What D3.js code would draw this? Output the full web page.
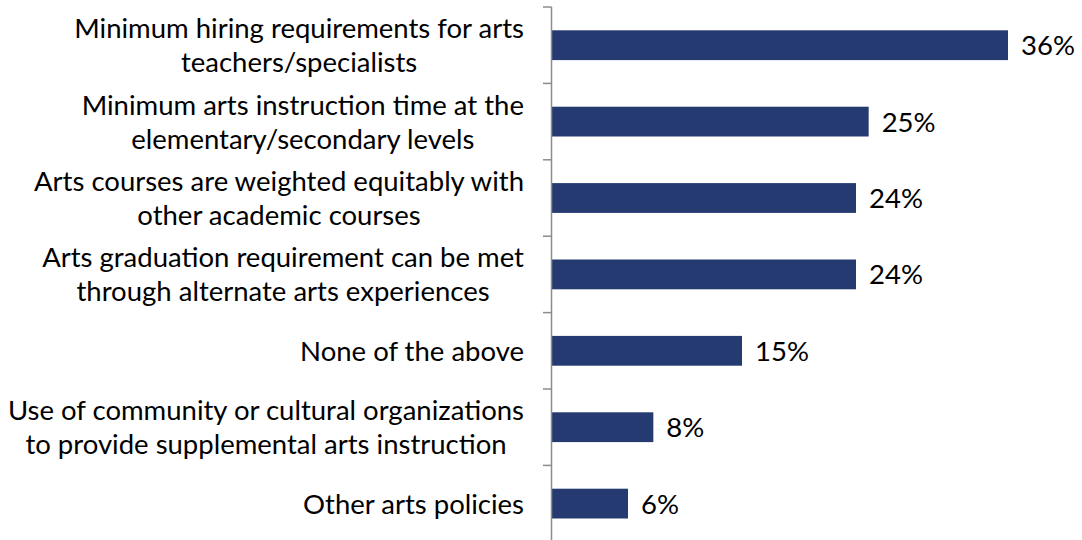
<!DOCTYPE html>
<html>
<head>
<meta charset="utf-8">
<script src="https://cdn.jsdelivr.net/npm/d3@7"></script>
<style>
  html, body { margin: 0; padding: 0; background: #ffffff; }
  svg { display: block; }
  text { font-family: Lato, "Open Sans", sans-serif; fill: #000; }
</style>
</head>
<body>
<svg id="chart" width="1082" height="540"></svg>
<script>
// Arts policies reported, share of respondents
const categories = [
  ["Minimum hiring requirements for arts", "teachers/specialists"],
  ["Minimum arts instruction time at the", "elementary/secondary levels"],
  ["Arts courses are weighted equitably with", "other academic courses"],
  ["Arts graduation requirement can be met", "through alternate arts experiences"],
  ["None of the above"],
  ["Use of community or cultural organizations", "to provide supplemental arts instruction"],
  ["Other arts policies"]
];
const values = [36, 25, 24, 24, 15, 8, 6];

const svg = d3.select("#chart");
const axisX = 552;
const plotTop = 7, step = 76.4;
const fontSize = 27.5;

const y = d3.scaleBand()
  .domain(d3.range(categories.length))
  .range([plotTop, plotTop + step * categories.length])
  .paddingInner(0.61)
  .paddingOuter(0.305);

const x = d3.scaleLinear().domain([0, 36]).range([axisX, axisX + 456]);

// bars
svg.append("g").selectAll("rect")
  .data(values)
  .join("rect")
  .attr("x", axisX)
  .attr("y", (d, i) => y(i))
  .attr("width", d => x(d) - axisX)
  .attr("height", y.bandwidth())
  .attr("fill", "#243a70");

// value labels
svg.append("g").selectAll("text")
  .data(values)
  .join("text")
  .attr("x", d => x(d) + 13)
  .attr("y", (d, i) => y(i) + y.bandwidth() / 2)
  .attr("dy", "0.36em")
  .attr("font-size", fontSize)
  .text(d => d + "%");

// category axis line and ticks between categories
const axis = svg.append("g").attr("stroke", "#8c8c8c").attr("stroke-width", 1.5);
axis.append("line")
  .attr("x1", axisX - 0.5).attr("x2", axisX - 0.5)
  .attr("y1", plotTop).attr("y2", 545);
axis.selectAll("line.tick")
  .data(d3.range(categories.length + 1))
  .join("line")
  .attr("class", "tick")
  .attr("x1", axisX - 9).attr("x2", axisX - 0.5)
  .attr("y1", i => plotTop + i * step)
  .attr("y2", i => plotTop + i * step);

// category labels
const lineH = 34;
const lab = svg.append("g").selectAll("text")
  .data(categories)
  .join("text")
  .attr("text-anchor", "middle")
  .attr("font-size", fontSize)
  .attr("y", (d, i) => y(i) + y.bandwidth() / 2);
lab.each(function(lines) {
  const t = d3.select(this);
  const n = lines.length;
  lines.forEach((s, k) => {
    t.append("tspan")
      .attr("x", 0)
      .attr("dy", k === 0 ? ((-(n - 1) / 2) * lineH / fontSize + 0.36) + "em" : (lineH / fontSize) + "em")
      .text(s);
  });
});
// right-align each block at the axis, centring lines within the block
lab.each(function() {
  const t = d3.select(this);
  const w = this.getBBox().width;
  t.attr("transform", `translate(${axisX - 28 - w / 2},0)`);
});
</script>
</body>
</html>
